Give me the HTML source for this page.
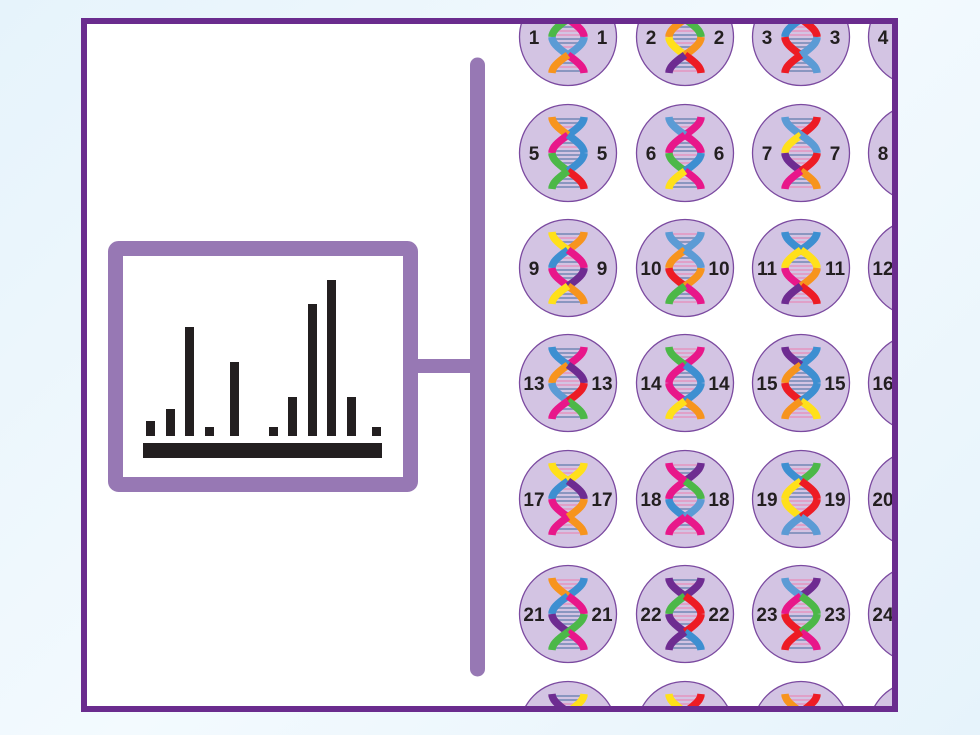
<!DOCTYPE html>
<html><head><meta charset="utf-8"><style>
html,body{margin:0;padding:0;width:980px;height:735px;overflow:hidden}
body{background:linear-gradient(135deg,#e6f3fb,#f3fafe 50%,#e6f3fb);position:relative;font-family:"Liberation Sans",sans-serif}
svg{display:block}
</style></head><body>
<svg width="980" height="735" style="position:absolute;left:0;top:0">
<defs><clipPath id="c"><rect x="84" y="21" width="811" height="688"/></clipPath></defs>
<rect x="84" y="21" width="811" height="688" fill="#fff"/>
<g id="g" clip-path="url(#c)"></g>
<rect x="84" y="21" width="811" height="688" fill="none" stroke="#6a2c8e" stroke-width="6"/>
<rect x="115.5" y="248.5" width="295" height="236" fill="#fff" stroke="#9778b4" stroke-width="15" rx="3"/>
<rect x="418" y="359" width="60" height="14" fill="#9778b4"/>
<line x1="477.5" y1="65" x2="477.5" y2="669" stroke="#9778b4" stroke-width="15" stroke-linecap="round"/>
<g fill="#231f20">
<rect x="143" y="443" width="239" height="15"/>
<rect x="146" y="421" width="9" height="15"/>
<rect x="166" y="409" width="9" height="27"/>
<rect x="185" y="327" width="9" height="109"/>
<rect x="205" y="427" width="9" height="9"/>
<rect x="230" y="362" width="9" height="74"/>
<rect x="269" y="427" width="9" height="9"/>
<rect x="288" y="397" width="9" height="39"/>
<rect x="308" y="304" width="9" height="132"/>
<rect x="327" y="280" width="9" height="156"/>
<rect x="347" y="397" width="9" height="39"/>
<rect x="372" y="427" width="9" height="9"/>
</g>
</svg>
<script>
var g=document.getElementById('g'),cols=[568,685,801,917],rows=[37,153,268,383,499,614,730];
var C=['#e8178a','#4cb848','#3d8fd1','#f7941d','#ffe01a','#6e2c91','#ed1c24','#5b9bd5'];
var s='',n=0,seed=7;function r(){seed=(seed*9301+49297)%233280;return seed/233280;}
rows.forEach(function(cy){cols.forEach(function(cx){n++;
s+='<circle cx="'+cx+'" cy="'+cy+'" r="48.5" fill="#d3c4e3" stroke="#7b4aa0" stroke-width="1.3"/>';
for(var y=-34;y<=34;y+=4){var w=16*Math.cos(Math.PI*y/36);s+='<line x1="'+(cx-Math.abs(w))+'" x2="'+(cx+Math.abs(w))+'" y1="'+(cy+y)+'" y2="'+(cy+y)+'" stroke="'+(r()<.5?'#8a96c0':'#e0a0c8')+'" stroke-width="2"/>';}
for(var k=0;k<4;k++){var y0=-36+k*18;for(var sd=-1;sd<=1;sd+=2){var p='';for(var y=y0;y<=y0+18;y+=2){p+=(y==y0?'M':'L')+(cx+sd*16*Math.cos(Math.PI*y/36)).toFixed(1)+' '+(cy+y);}
s+='<path d="'+p+'" fill="none" stroke="'+C[Math.floor(r()*8)]+'" stroke-width="7.5"/>';}}
s+='<text x="'+(cx-34)+'" y="'+(cy+7)+'" font-size="19" font-weight="bold" text-anchor="middle" fill="#231f20">'+n+'</text>';
s+='<text x="'+(cx+34)+'" y="'+(cy+7)+'" font-size="19" font-weight="bold" text-anchor="middle" fill="#231f20">'+n+'</text>';
});});
g.innerHTML=s;
</script>
</body></html>
